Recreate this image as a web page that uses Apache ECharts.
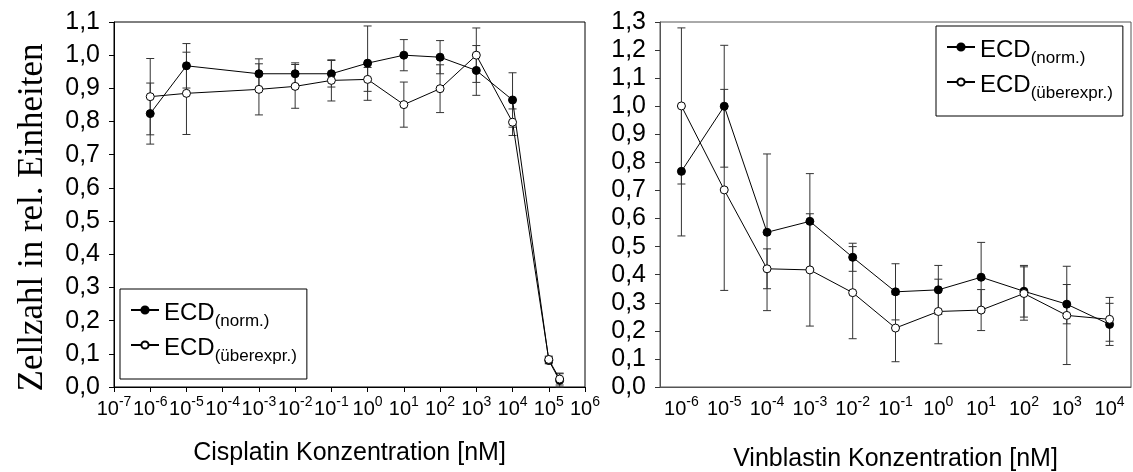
<!DOCTYPE html>
<html><head><meta charset="utf-8">
<script src="https://cdn.jsdelivr.net/npm/echarts@6/dist/echarts.min.js"></script>
<style>html,body{margin:0;padding:0;background:#fff}#c{width:1133px;height:472px}</style>
</head><body><div id="c"></div>
<script>
// ---- Data ----
// Cisplatin panel: x = log10 of concentration [nM]
const cisExp = [-6, -5, -3, -2, -1, 0, 1, 2, 3, 4, 5, 5.3];
const cisNorm = [0.824, 0.968, 0.944, 0.944, 0.944, 0.976, 1.0, 0.994, 0.954, 0.865, 0.08, 0.02];
const cisNormErr = [0.092, 0.067, 0.045, 0.033, 0.04, 0.112, 0.047, 0.05, 0.075, 0.082, 0.01, 0.02];
const cisOver = [0.875, 0.885, 0.897, 0.906, 0.924, 0.927, 0.851, 0.899, 1.0, 0.798, 0.083, 0.024];
const cisOverErr = [0.115, 0.124, 0.077, 0.066, 0.062, 0.036, 0.068, 0.072, 0.082, 0.04, 0.01, 0.018];
// Vinblastin panel: categories are exponents
const vinCats = ['-6', '-5', '-4', '-3', '-2', '-1', '0', '1', '2', '3', '4'];
const vinNorm = [0.768, 1.0, 0.551, 0.590, 0.462, 0.339, 0.346, 0.391, 0.341, 0.295, 0.223];
const vinNormErr = [0.23, 0.217, 0.279, 0.17, 0.05, 0.10, 0.087, 0.124, 0.092, 0.07, 0.075];
const vinOver = [1.001, 0.702, 0.421, 0.417, 0.336, 0.210, 0.269, 0.274, 0.333, 0.255, 0.241];
const vinOverErr = [0.278, 0.358, 0.071, 0.2, 0.164, 0.12, 0.115, 0.073, 0.095, 0.175, 0.078];
const nameNorm = 'ECD(norm.)';
const nameOver = 'ECD(überexpr.)';

// ---- Helpers ----
const SANS = 'Liberation Sans, Arial, sans-serif';
const SERIF = 'Liberation Serif, Times New Roman, serif';
const dec = v => v.toFixed(1).replace('.', ',');
const pow = e => '{b|10}{s|' + e + '}';
const powRich = {
  b: {fontSize: 20, fontFamily: SANS, color: '#000', lineHeight: 24, verticalAlign: 'bottom'},
  s: {fontSize: 14, fontFamily: SANS, color: '#000', lineHeight: 14, verticalAlign: 'top'}
};
function errRender(params, api) {
  const x = api.value(0), y = api.value(1), e = api.value(2);
  const t = api.coord([x, y + e]), b = api.coord([x, y - e]);
  const w = 4, st = {stroke: '#333', lineWidth: 1};
  return {type: 'group', children: [
    {type: 'line', shape: {x1: t[0], y1: t[1], x2: b[0], y2: b[1]}, style: st},
    {type: 'line', shape: {x1: t[0] - w, y1: t[1], x2: t[0] + w, y2: t[1]}, style: st},
    {type: 'line', shape: {x1: b[0] - w, y1: b[1], x2: b[0] + w, y2: b[1]}, style: st}
  ]};
}
function lineSeries(name, xi, xs, ys, filled) {
  return {
    type: 'line', name: name, xAxisIndex: xi, yAxisIndex: xi,
    data: xs ? ys.map((v, i) => [xs[i], v]) : ys,
    symbol: 'circle', symbolSize: 8, showSymbol: true, animation: false,
    lineStyle: {color: '#000', width: 1},
    itemStyle: {color: filled ? '#000' : '#fff', borderColor: '#000', borderWidth: 1},
    z: filled ? 3 : 4
  };
}
function errSeries(xi, xs, ys, es) {
  return {
    type: 'custom', xAxisIndex: xi, yAxisIndex: xi, renderItem: errRender, animation: false, z: 2,
    data: ys.map((v, i) => [xs ? xs[i] : i, v, es[i]])
  };
}
const legendRich = {
  m: {fontSize: 24, fontFamily: SANS, color: '#000', lineHeight: 30, verticalAlign: 'bottom'},
  s: {fontSize: 17, fontFamily: SANS, color: '#000', lineHeight: 16, verticalAlign: 'bottom', padding: [0, 0, -5, 0]}
};
const legendFmt = n => n === nameNorm ? '{m|ECD}{s|(norm.)}' : '{m|ECD}{s|(überexpr.)}';
function legend(left, top) {
  return {
    data: [nameNorm, nameOver], orient: 'vertical', left: left, top: top,
    itemWidth: 28, itemHeight: 9, itemGap: 6,
    padding: [12, 10, 14, 10], borderColor: '#000', borderWidth: 1,
    formatter: legendFmt, textStyle: {rich: legendRich}, selectedMode: false
  };
}
const yLabel = {fontSize: 25, fontFamily: SANS, color: '#000', margin: 14, formatter: dec};

const option = {
  backgroundColor: '#fff',
  animation: false,
  grid: [
    {left: 114, top: 22, width: 471, height: 365, show: true, borderColor: '#000', borderWidth: 1,
     outerBoundsMode: 'none', containLabel: false},
    {left: 660, top: 22, width: 471, height: 365, show: true, borderColor: '#555', borderWidth: 1,
     outerBoundsMode: 'none', containLabel: false}
  ],
  legend: [legend(120, 289), legend(936, 26)],
  xAxis: [
    {type: 'value', gridIndex: 0, min: -7, max: 6, interval: 1,
     axisLine: {onZero: false, lineStyle: {color: '#000'}}, axisTick: {length: 5, lineStyle: {color: '#000'}},
     splitLine: {show: false},
     axisLabel: {formatter: v => pow(v), rich: powRich, margin: 8},
     name: 'Cisplatin Konzentration [nM]', nameLocation: 'middle', nameGap: 54,
     nameTextStyle: {fontSize: 25, fontFamily: SANS, color: '#000'}},
    {type: 'category', gridIndex: 1, data: vinCats, boundaryGap: true,
     axisLine: {onZero: false, lineStyle: {color: '#555'}}, axisTick: {alignWithLabel: true, length: 5, lineStyle: {color: '#333'}},
     axisLabel: {formatter: v => pow(v), rich: powRich, margin: 8, interval: 0},
     name: 'Vinblastin Konzentration [nM]', nameLocation: 'middle', nameGap: 60,
     nameTextStyle: {fontSize: 25, fontFamily: SANS, color: '#000'}}
  ],
  yAxis: [
    {type: 'value', gridIndex: 0, min: 0, max: 1.1, interval: 0.1,
     axisLine: {show: true, onZero: false, lineStyle: {color: '#000'}}, axisTick: {show: true, length: 5, lineStyle: {color: '#000'}},
     splitLine: {show: false}, axisLabel: yLabel,
     name: 'Zellzahl in rel. Einheiten', nameLocation: 'middle', nameRotate: 90, nameGap: 64,
     nameTextStyle: {fontSize: 35, fontFamily: SERIF, color: '#000', padding: [0, 26, 0, 0]}},
    {type: 'value', gridIndex: 1, min: 0, max: 1.3, interval: 0.1,
     axisLine: {show: true, onZero: false, lineStyle: {color: '#555'}}, axisTick: {show: true, length: 5, lineStyle: {color: '#333'}},
     splitLine: {show: false}, axisLabel: yLabel}
  ],
  series: [
    errSeries(0, cisExp, cisNorm, cisNormErr),
    errSeries(0, cisExp, cisOver, cisOverErr),
    lineSeries(nameNorm, 0, cisExp, cisNorm, true),
    lineSeries(nameOver, 0, cisExp, cisOver, false),
    errSeries(1, null, vinNorm, vinNormErr),
    errSeries(1, null, vinOver, vinOverErr),
    lineSeries(nameNorm, 1, null, vinNorm, true),
    lineSeries(nameOver, 1, null, vinOver, false)
  ]
};
const chart = echarts.init(document.getElementById('c'), null, {renderer: 'canvas'});
chart.setOption(option);
</script></body></html>
